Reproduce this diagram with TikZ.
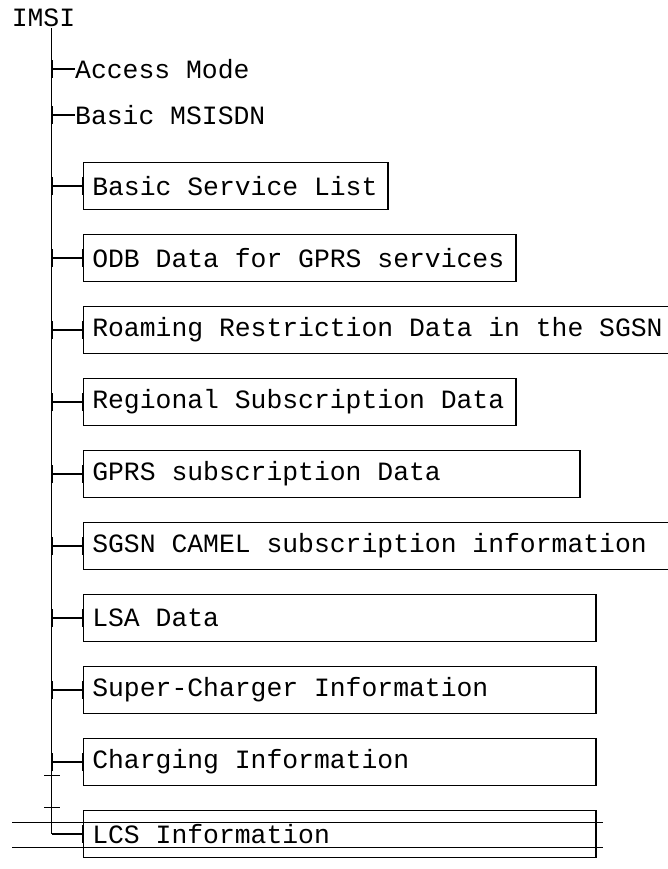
\documentclass[tikz,border=0pt]{standalone}
\usepackage{fontspec}
\newfontfamily\courfont{Liberation Mono}
\usetikzlibrary{positioning}
\usetikzlibrary{arrows.meta}
\tikzset{lbl/.style={font=\courfont\fontsize{26.4}{30}\selectfont, inner sep=0pt}}
\tikzset{leaf/.style={lbl, draw, line width=1.6pt, outer sep=0pt, minimum height=47pt, inner xsep=9pt, text width=#1, align=left, execute at begin node={\spaceskip=0pt\xspaceskip=0pt\relax}}}
\tikzset{trunk/.style={line width=1.2pt}}
\tikzset{branch/.style={line width=1.6pt, arrows={Bar[width=18pt]-Bar[width=18pt]}}}
\tikzset{stub/.style={line width=1.6pt, arrows={Bar[width=18pt]-}}}
\tikzset{corner/.style={line width=1.6pt, arrows={-Bar[width=18pt]}}}
\tikzset{stray/.style={line width=1pt}}

\begin{document}
\begin{tikzpicture}[x=1pt,y=1pt]
\useasboundingbox (0,0) rectangle (667,-869);

\node (imsi) [lbl] at (43.5,-18) {IMSI};
\coordinate (top) at (51.7,-28);
\node (acc) [lbl, anchor=west] at (75,-69) {Access Mode};
\node (msisdn) [lbl, anchor=west] at (75,-115) {Basic MSISDN};

\node (bsl) [leaf=286.7pt, anchor=north west] at (83.3,-162.5) {Basic Service List};
\node (odb) [leaf=414.7pt, below=25pt of bsl.south west, anchor=north west] {ODB Data for GPRS services};
\node (roam) [leaf=589pt, below=25pt of odb.south west, anchor=north west] {Roaming Restriction Data in the SGSN};
\node (reg) [leaf=414.7pt, below=25pt of roam.south west, anchor=north west] {Regional Subscription Data};
\node (gprs) [leaf=478.7pt, below=25pt of reg.south west, anchor=north west] {GPRS subscription Data};
\node (camel) [leaf=589pt, below=25pt of gprs.south west, anchor=north west] {SGSN CAMEL subscription information};
\node (lsa) [leaf=494.7pt, below=25pt of camel.south west, anchor=north west] {LSA Data};
\node (sc) [leaf=494.7pt, below=25pt of lsa.south west, anchor=north west] {Super-Charger Information};
\node (chg) [leaf=494.7pt, below=25pt of sc.south west, anchor=north west] {Charging Information};
\node (lcs) [leaf=494.7pt, below=25pt of chg.south west, anchor=north west] {LCS Information};

\draw[trunk] (top) -- (lcs.west -| top);
\draw[stub] (acc.west -| top) -- (acc.west);
\draw[stub] (msisdn.west -| top) -- (msisdn.west);
\draw[branch] (bsl.west -| top) -- (bsl.west);
\draw[branch] (odb.west -| top) -- (odb.west);
\draw[branch] (roam.west -| top) -- (roam.west);
\draw[branch] (reg.west -| top) -- (reg.west);
\draw[branch] (gprs.west -| top) -- (gprs.west);
\draw[branch] (camel.west -| top) -- (camel.west);
\draw[branch] (lsa.west -| top) -- (lsa.west);
\draw[branch] (sc.west -| top) -- (sc.west);
\draw[branch] (chg.west -| top) -- (chg.west);
\draw[corner] (lcs.west -| top) -- (lcs.west);

% stray marks near the bottom
\draw[stray] (44,-775) -- (60,-775);
\draw[stray] (44,-807) -- (60,-807);
\draw[stray] (12,-822.7) -- (603,-822.7);
\draw[stray] (12,-847) -- (603,-847);
\end{tikzpicture}
\end{document}
